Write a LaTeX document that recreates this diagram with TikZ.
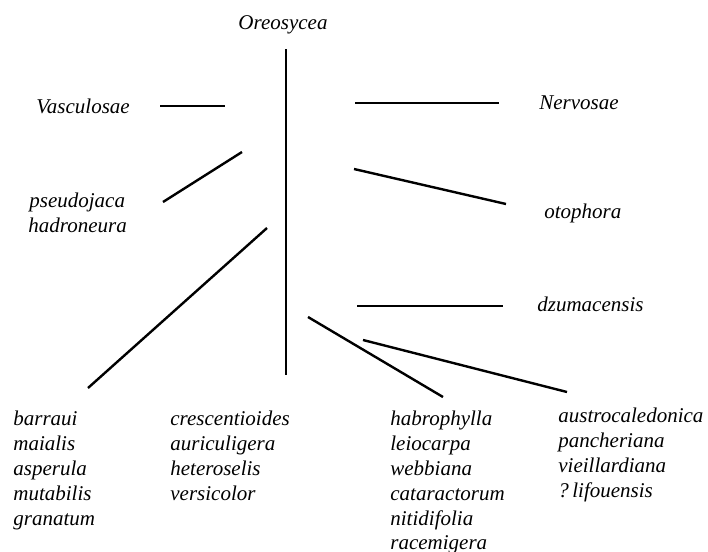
\documentclass[tikz,border=0pt]{standalone}
\usepackage{fontspec}
\setmainfont{Liberation Serif}
\usepackage{tikz}
\usetikzlibrary{positioning}
\tikzset{
	x=0.5pt,
	y=-0.5pt,
	taxon/.style={
		inner sep=0pt,
		anchor=base west,
		font=\fontsize{10.5}{12.5}\selectfont\itshape
	},
	branch/.style={
		line width=1.2pt
	}
}

\begin{document}
\begin{tikzpicture}
		\useasboundingbox (0,0) rectangle (708,552);
		\draw
			node[taxon,anchor=base] (oreosycea)   at (283,29)  {Oreosycea}
			node[taxon]             (vasculosae)  at (36,113)  {Vasculosae}
			node[taxon]             (nervosae)    at (539,109) {Nervosae}
			node[taxon]             (pseudojaca)  at (29,207)  {pseudojaca}
			node[taxon]             (hadroneura)  at (28,232)  {hadroneura}
			node[taxon]             (otophora)    at (544,218) {otophora}
			node[taxon]             (dzumacensis) at (537,311) {dzumacensis}

			node[taxon]             (barraui)     at (13,425)  {barraui}
			node[taxon]             (maialis)     at (13,450)  {maialis}
			node[taxon]             (asperula)    at (13,475)  {asperula}
			node[taxon]             (mutabilis)   at (13,500)  {mutabilis}
			node[taxon]             (granatum)    at (13,525)  {granatum}

			node[taxon]             (crescent)    at (170,425) {crescentioides}
			node[taxon]             (auriculig)   at (170,450) {auriculigera}
			node[taxon]             (heterosel)   at (170,475) {heteroselis}
			node[taxon]             (versicolor)  at (170,500) {versicolor}

			node[taxon]             (habrophylla) at (390,425) {habrophylla}
			node[taxon]             (leiocarpa)   at (390,450) {leiocarpa}
			node[taxon]             (webbiana)    at (390,475) {webbiana}
			node[taxon]             (cataract)    at (390,500) {cataractorum}
			node[taxon]             (nitidifolia) at (390,525) {nitidifolia}
			node[taxon]             (racemigera)  at (390,549) {racemigera}

			node[taxon]             (austrocal)   at (558,422) {austrocaledonica}
			node[taxon]             (pancher)     at (558,447) {pancheriana}
			node[taxon]             (vieillard)   at (558,472) {vieillardiana}
			node[taxon]             (lifouensis)  at (558,497) {?\,lifouensis}
		;

		\path
			coordinate (stem0)  at (286,49)
			coordinate (stem1)  at (286,375)
			coordinate (vasc0)  at (160,106)
			coordinate (vasc1)  at (225,106)
			coordinate (nerv0)  at (355,103)
			coordinate (nerv1)  at (499,103)
			coordinate (pseu0)  at (163,202)
			coordinate (pseu1)  at (242,152)
			coordinate (otop0)  at (354,169)
			coordinate (otop1)  at (506,204)
			coordinate (dzum0)  at (357,306)
			coordinate (dzum1)  at (503,306)
			coordinate (barr0)  at (267,228)
			coordinate (barr1)  at (88,388)
			coordinate (habr0)  at (308,317)
			coordinate (habr1)  at (443,397)
			coordinate (aust0)  at (363,340)
			coordinate (aust1)  at (567,392)
		;

		\draw[branch]
			(stem0) edge (stem1)
			(vasc0) edge (vasc1)
			(nerv0) edge (nerv1)
			(pseu0) edge (pseu1)
			(otop0) edge (otop1)
			(dzum0) edge (dzum1)
			(barr0) edge (barr1)
			(habr0) edge (habr1)
			(aust0) edge (aust1)
		;
	\end{tikzpicture}
\end{document}
